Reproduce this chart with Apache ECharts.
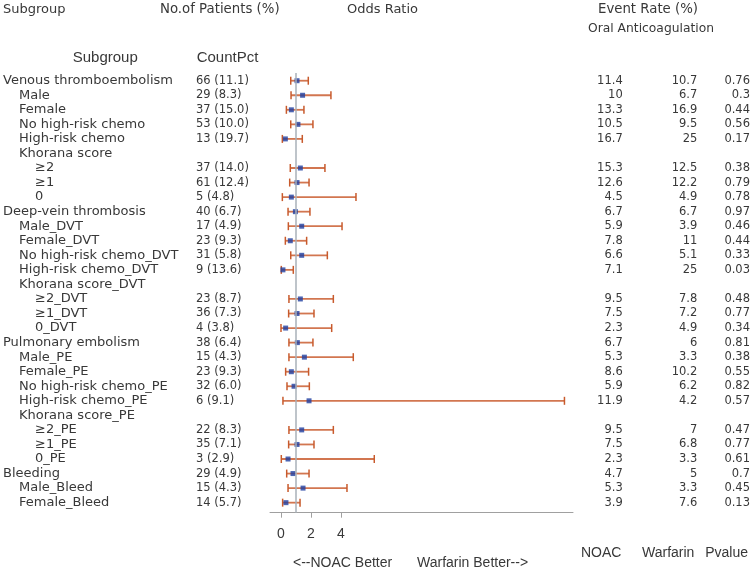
<!DOCTYPE html>
<html><head><meta charset="utf-8">
<script src="https://cdn.jsdelivr.net/npm/echarts@6/dist/echarts.min.js"></script>
<style>html,body{margin:0;padding:0;background:#fff}#c{width:753px;height:570px}</style>
</head><body><div id="c"></div>
<script>
const subgroups = ['Venous thromboembolism','Male','Female','No high-risk chemo','High-risk chemo','Khorana score','≥2','≥1','0',
  'Deep-vein thrombosis','Male_DVT','Female_DVT','No high-risk chemo_DVT','High-risk chemo_DVT','Khorana score_DVT','≥2_DVT','≥1_DVT','0_DVT',
  'Pulmonary embolism','Male_PE','Female_PE','No high-risk chemo_PE','High-risk chemo_PE','Khorana score_PE','≥2_PE','≥1_PE','0_PE',
  'Bleeding','Male_Bleed','Female_Bleed'];
const levels = [0,1,1,1,1,1,2,2,2, 0,1,1,1,1,1,2,2,2, 0,1,1,1,1,1,2,2,2, 0,1,1];
const counts = ['66 (11.1)','29 (8.3)','37 (15.0)','53 (10.0)','13 (19.7)','','37 (14.0)','61 (12.4)','5 (4.8)',
  '40 (6.7)','17 (4.9)','23 (9.3)','31 (5.8)','9 (13.6)','','23 (8.7)','36 (7.3)','4 (3.8)',
  '38 (6.4)','15 (4.3)','23 (9.3)','32 (6.0)','6 (9.1)','','22 (8.3)','35 (7.1)','3 (2.9)',
  '29 (4.9)','15 (4.3)','14 (5.7)'];
const oddsRatio = [1.07,1.44,0.69,1.13,0.29,null,1.29,1.07,0.69,
  0.96,1.38,0.62,1.38,0.13,null,1.29,1.07,0.31,
  1.09,1.56,0.69,0.87,1.87,null,1.38,1.07,0.47,
  0.80,1.47,0.33];
const ciLower = [0.65,0.67,0.36,0.65,0.09,null,0.62,0.58,0.09,
  0.47,0.49,0.29,0.65,0.02,null,0.53,0.51,0.00,
  0.53,0.53,0.31,0.40,0.13,null,0.53,0.51,0.02,
  0.38,0.47,0.11];
const ciUpper = [1.82,3.33,1.53,2.13,1.42,null,2.93,1.87,5.00,
  1.93,4.07,1.71,3.09,0.82,null,3.49,2.20,3.38,
  2.13,4.82,1.84,1.89,18.9,null,3.49,2.20,6.22,
  1.87,4.40,1.27];
const noacRate = ['11.4','10','13.3','10.5','16.7','','15.3','12.6','4.5',
  '6.7','5.9','7.8','6.6','7.1','','9.5','7.5','2.3',
  '6.7','5.3','8.6','5.9','11.9','','9.5','7.5','2.3',
  '4.7','5.3','3.9'];
const warfarinRate = ['10.7','6.7','16.9','9.5','25','','12.5','12.2','4.9',
  '6.7','3.9','11','5.1','25','','7.8','7.2','4.9',
  '6','3.3','10.2','6.2','4.2','','7','6.8','3.3',
  '5','3.3','7.6'];
const pValues = ['0.76','0.3','0.44','0.56','0.17','','0.38','0.79','0.78',
  '0.97','0.46','0.44','0.33','0.03','','0.48','0.77','0.34',
  '0.81','0.38','0.55','0.82','0.57','','0.47','0.77','0.61',
  '0.7','0.45','0.13'];
const xTicks = [0, 2, 4];

const chart = echarts.init(document.getElementById('c'));
const rows = subgroups.map((s, i) => i);
const has = rows.filter(i => oddsRatio[i] != null);
const ciData = has.map(i => [i, ciLower[i], ciUpper[i]]);
const ptData = has.map(i => [oddsRatio[i], i]);
const textData = rows.map(i => [0, i]);

const bodyFont = 'DejaVu Sans';
const sansFont = 'Liberation Sans';
const txtColor = '#383838';

function txt(x, y, s, align, size, family) {
  return { type: 'text', x: x, y: y, silent: true,
    style: { text: s, fill: txtColor, font: size + 'px "' + family + '"', textAlign: align, textVerticalAlign: 'middle' } };
}

chart.setOption({
  animation: false,
  grid: { left: 270, width: 303, top: 73, bottom: 57.3, containLabel: false },
  xAxis: {
    type: 'value', min: -0.733, max: 19.47,
    axisLine: { show: true, onZero: false, lineStyle: { color: '#a0a0a0', width: 1 } },
    axisTick: { show: true, length: 5, customValues: xTicks, lineStyle: { color: '#a0a0a0' } },
    axisLabel: { customValues: xTicks, fontSize: 14, fontFamily: sansFont, color: txtColor, margin: 14 },
    splitLine: { show: false }
  },
  yAxis: { type: 'value', min: -0.53, max: 29.69, inverse: true, show: false },
  graphic: [
    txt(3, 9.5, 'Subgroup', 'left', 13, bodyFont),
    txt(160, 9.5, 'No.of Patients (%)', 'left', 13.3, bodyFont),
    txt(347, 9.5, 'Odds Ratio', 'left', 13, bodyFont),
    txt(648, 9.5, 'Event Rate (%)', 'center', 13.3, bodyFont),
    txt(651, 29, 'Oral Anticoagulation', 'center', 12.3, bodyFont),
    txt(72.7, 57.5, 'Subgroup', 'left', 15, sansFont),
    txt(196.7, 57.5, 'CountPct', 'left', 15, sansFont),
    txt(581, 552.7, 'NOAC', 'left', 14, sansFont),
    txt(642, 552.7, 'Warfarin', 'left', 14, sansFont),
    txt(748, 552.7, 'Pvalue', 'right', 14, sansFont),
    txt(293, 562.7, '<--NOAC Better', 'left', 14, sansFont),
    txt(417, 562.7, 'Warfarin Better-->', 'left', 14, sansFont)
  ],
  series: [
    {
      type: 'custom', name: 'CI', data: ciData, encode: { x: [1, 2], y: 0 },
      renderItem: function (params, api) {
        const y = api.coord([0, api.value(0)])[1];
        const x1 = api.coord([api.value(1), 0])[0];
        const x2 = api.coord([api.value(2), 0])[0];
        const hs = { stroke: '#d27650', lineWidth: 1.8 };
        const cs = { stroke: '#c85a2c', lineWidth: 1.5 };
        return { type: 'group', children: [
          { type: 'line', shape: { x1: x1, y1: y, x2: x2, y2: y }, style: hs },
          { type: 'line', shape: { x1: x1, y1: y - 4, x2: x1, y2: y + 4 }, style: cs },
          { type: 'line', shape: { x1: x2, y1: y - 4, x2: x2, y2: y + 4 }, style: cs }
        ] };
      },
      z: 2
    },
    {
      type: 'scatter', name: 'OR', data: ptData, symbol: 'rect', symbolSize: 5,
      itemStyle: { color: '#1f3fa0' }, z: 4,
      markLine: { silent: true, symbol: 'none', label: { show: false },
        lineStyle: { color: '#a8b0b8', width: 1.5, type: 'solid' },
        data: [{ xAxis: 1 }] }
    },
    {
      type: 'custom', name: 'Table', data: textData, encode: { x: 0, y: 1 }, clip: false,
      renderItem: function (params, api) {
        const i = api.value(1);
        const y = api.coord([0, i])[1];
        return { type: 'group', children: [
          txt(3 + 16 * levels[i], y, subgroups[i], 'left', 13, bodyFont),
          txt(196, y, counts[i], 'left', 11.5, bodyFont),
          txt(622.7, y, noacRate[i], 'right', 11.5, bodyFont),
          txt(697.3, y, warfarinRate[i], 'right', 11.5, bodyFont),
          txt(750, y, pValues[i], 'right', 11.5, bodyFont)
        ] };
      }
    }
  ]
});
</script>
</body></html>
